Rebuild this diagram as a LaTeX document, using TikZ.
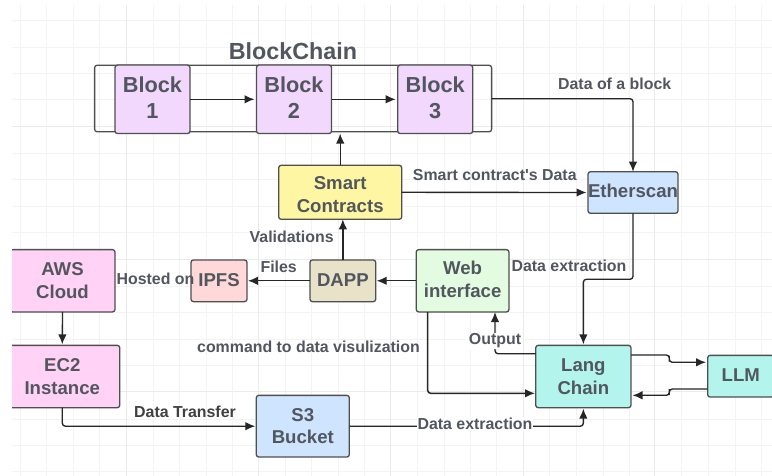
\documentclass[tikz,border=0pt]{standalone}
\usepackage{fontspec}
\setmainfont{Liberation Sans}[Ligatures=TeXOff]
\usetikzlibrary{arrows.meta}
\definecolor{txt}{HTML}{52565F}
\definecolor{edge}{HTML}{4F4F4F}
\definecolor{gridl}{HTML}{F3F3F3}
\definecolor{gridh}{HTML}{EBEBEB}
\definecolor{blockc}{HTML}{F2D8FD}
\definecolor{smartc}{HTML}{FFF6A3}
\definecolor{bluec}{HTML}{CFE4FF}
\definecolor{awsc}{HTML}{FFD2F6}
\definecolor{ipfsc}{HTML}{FFD9D9}
\definecolor{dappc}{HTML}{E8E2C8}
\definecolor{webc}{HTML}{E3FBE1}
\definecolor{langc}{HTML}{B3F5EC}
\newcommand\dpth[1]{\rule[-#1]{0pt}{0pt}}
\newcommand\hgt[1]{\rule{0pt}{#1}}
\tikzset{
  x=1pt,y=-1pt,
  box/.style={draw=edge,line width=1.3pt,rounded corners=2.5pt,align=center,text=txt,font=\bfseries,inner sep=0pt,outer sep=0pt},
  bigtext/.style={font=\fontsize{21.7}{26}\selectfont\bfseries},
  midtext/.style={font=\fontsize{18.6}{22.6}\selectfont\bfseries},
  lbl/.style={text=txt,inner sep=0pt,font=\fontsize{15.9}{18}\selectfont\bfseries},
  lblbg/.style={lbl,fill=white,inner ysep=1pt,inner xsep=1pt},
  conn/.style={draw=black!85,line width=1.35pt,rounded corners=3pt,-{Latex[length=10pt,width=8.5pt]}},
}
\begin{document}
\begin{tikzpicture}
\useasboundingbox (0,0) rectangle (772,476);
\fill[white] (0,0) rectangle (772,476);
% grid
\foreach \gx in {20,46,73,99,153,179,206,232,285,311,338,364,417,444,470,496,549,576,603,629,681,708,735,761}
  \draw[gridl,line width=.9pt] (\gx,5) -- (\gx,476);
\foreach \gy in {20,47,73,99,153,179,206,232,286,312,339,365,419,445,471}
  \draw[gridl,line width=.9pt] (12,\gy) -- (772,\gy);
\foreach \gx in {126,258,390,523,654}
  \draw[gridh,line width=1pt] (\gx,5) -- (\gx,476);
\foreach \gy in {127,260,391}
  \draw[gridh,line width=1pt] (12,\gy) -- (772,\gy);

% nodes
\node[box,minimum width=397pt,minimum height=66.5pt] (chain) at (293.1,98.5) {};
\node[lbl,font=\fontsize{23.3}{26}\selectfont\bfseries] (title) at (293,51) {BlockChain};
\node[box,bigtext,fill=blockc,minimum width=75pt,minimum height=68.5pt] (b1) at (152.5,99.3) {Block\\1\dpth{3pt}};
\node[box,bigtext,fill=blockc,minimum width=75pt,minimum height=68.5pt] (b2) at (294,99.3) {Block\\2\dpth{3pt}};
\node[box,bigtext,fill=blockc,minimum width=75pt,minimum height=68.5pt] (b3) at (435.2,99.3) {Block\\3\dpth{3pt}};
\node[box,midtext,fill=smartc,minimum width=123pt,minimum height=54pt] (smart) at (340.2,192.3) {\hgt{17.5pt}Smart\\Contracts};
\node[box,midtext,fill=bluec,minimum width=89.5pt,minimum height=41.6pt] (eth) at (633,192.5) {Etherscan\dpth{4pt}};
\node[box,midtext,fill=awsc,minimum width=105pt,minimum height=62.3pt] (aws) at (62.5,280.8) {AWS\\Cloud};
\node[box,midtext,fill=awsc,minimum width=115pt,minimum height=62.3pt] (ec2) at (62.3,376.5) {EC2\\Instance};
\node[box,midtext,fill=ipfsc,minimum width=56pt,minimum height=41.7pt] (ipfs) at (219,280.8) {IPFS\dpth{2pt}};
\node[box,midtext,fill=dappc,minimum width=65.7pt,minimum height=41.7pt] (dapp) at (342.85,280.8) {DAPP\dpth{2pt}};
\node[box,midtext,fill=webc,minimum width=92.7pt,minimum height=62.3pt] (web) at (462.6,280.8) {Web\\interface\dpth{3pt}};
\node[box,midtext,fill=bluec,minimum width=93pt,minimum height=61.7pt] (s3) at (302.8,426.2) {S3\\Bucket};
\node[box,midtext,fill=langc,minimum width=95.3pt,minimum height=62.3pt] (lang) at (583.35,376.5) {Lang\\Chain};
\node[box,midtext,fill=langc,minimum width=66.3pt,minimum height=41.7pt] (llm) at (740.8,376.2) {LLM\dpth{2pt}};
\fill[white] (0,0) rectangle (12,476);

% helper points
\coordinate (ethbend) at (583.35,279.3);
\coordinate (outA) at (535.7,353.7);
\coordinate (outB) at (495,353.7);
\coordinate (webO) at (495,312);
\coordinate (webL) at (427.7,312);
\coordinate (langW) at (535,393.3);
\coordinate (la) at (631,355);
\coordinate (lc) at (706,362.3);
\coordinate (ma) at (707.7,389);
\coordinate (mc) at (632.5,395.3);
\coordinate (chainE) at (491.6,98.7);
\coordinate (ethN) at (633,98.7);

% connectors
\draw[conn,shorten >=2pt] (b1.east) -- (b2.west);
\draw[conn,shorten >=2pt] (b2.east) -- (b3.west);
\draw[conn] (chainE) -- (ethN) -- (eth.north);
\draw[conn] (smart.north) -- (smart.north |- b2.south);
\draw[conn] (dapp.north) -- (dapp.north |- smart.south);
\draw[conn,shorten >=1.5pt] (smart.east) -- (eth.west);
\draw[conn,shorten >=1pt] (web.west) -- (dapp.east);
\draw[conn,shorten >=1pt] (dapp.west) -- (ipfs.east);
\draw[conn,shorten >=1pt] (eth.south) |- (ethbend) -- (lang.north);
\draw[conn,line width=1.5pt] (webL) |- (langW);
\draw[conn] (outA) -- (outB) -- (webO);
\draw[conn] (la) -| (669.3,358.5) |- (lc);
\draw[conn] (ma) -| (669.3,392) |- (mc);
\draw[conn,shorten >=1pt] (aws.south) -- (ec2.north);
\draw[conn,shorten >=1pt] (ec2.south) |- (s3.west);
\draw[conn,shorten >=1pt] (s3.east) -| (lang.south);

% labels
\node[lbl] (l1) at (614.7,84) {Data of a block};
\node[lbl] (l2) at (494.8,175) {Smart contract's Data};
\node[lbl] (l3) at (291.7,237) {Validations};
\node[lbl] (l4) at (278.7,266.7) {Files};
\node[lbl] (l5) at (155.5,278.7) {Hosted on};
\node[lbl] (l6) at (308.5,347) {command to data visulization};
\node[lbl] (l7) at (569,266.3) {Data extraction};
\node[lblbg] (l8) at (495,341) {Output};
\node[lbl,text=black!75] (l9) at (185,411.7) {Data Transfer};
\node[lblbg] (l10) at (475,424.2) {Data extraction};
\end{tikzpicture}
\end{document}
